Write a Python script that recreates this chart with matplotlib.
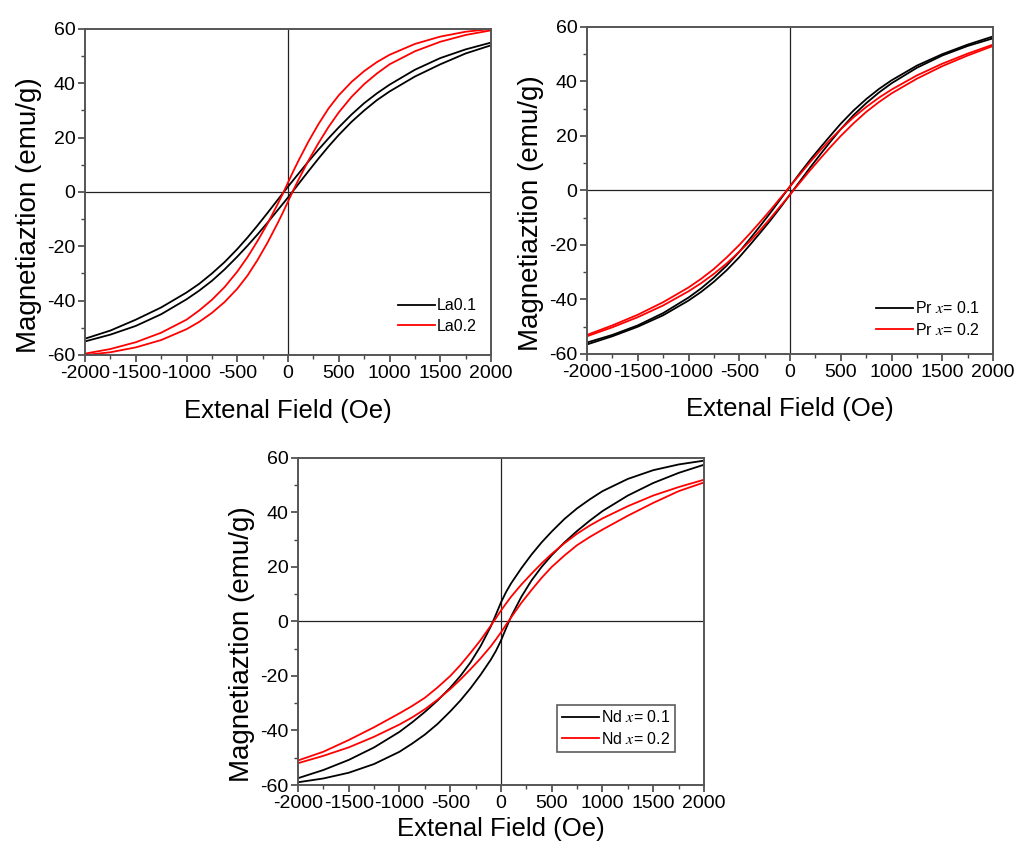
import matplotlib
matplotlib.use("Agg")
import matplotlib.pyplot as plt
import numpy as np

# Field grid (Oe), shared by all loops
field = [-2000, -1750, -1500, -1250, -1000, -875, -750, -625, -500, -400,
         -300, -200, -100, -50, 0, 50, 100, 200, 300, 400,
         500, 625, 750, 875, 1000, 1250, 1500, 1750, 2000]

# Descending-field (upper) branches, emu/g; the ascending branch is its mirror
la01_upper = [-54, -51, -47, -42.5, -37, -33.8, -30, -25.8, -21, -16.8,
              -12.3, -7.6, -2.8, -0.4, 2, 4.3, 6.6, 11.2, 15.6, 19.8,
              23.8, 28.5, 32.7, 36.3, 39.5, 45, 49.3, 52.5, 55]
la02_upper = [-59.5, -57.8, -55.3, -51.8, -47, -43.6, -39.7, -35, -29.3, -24,
              -18, -11.5, -4.3, -0.5, 3.5, 7.5, 11.3, 18.5, 25, 30.8,
              35.6, 40.5, 44.5, 47.8, 50.5, 54.5, 57.2, 59, 60]
pr01_upper = [-55.8, -53, -49.5, -45, -39.3, -35.9, -32, -27.6, -22.5, -18,
              -13.3, -8.5, -3.5, -1, 1.5, 4, 6.5, 11.3, 15.8, 20.2,
              24.5, 29.3, 33.5, 37.2, 40.4, 45.8, 50, 53.5, 56.5]
pr02_upper = [-53, -49.5, -45.6, -41, -35.6, -32.4, -28.8, -24.6, -20, -16,
              -11.8, -7.5, -3, -0.8, 1.5, 3.8, 6, 10.5, 14.8, 18.8,
              22.5, 26.8, 30.6, 34, 37, 42.2, 46.5, 50.2, 53.5]
nd01_upper = [-57.5, -54.5, -50.8, -46.2, -40.5, -37, -33.2, -29, -24.3, -20,
              -15, -9, -1.8, 2.5, 7, 10.8, 14, 19.5, 24.5, 29,
              33, 37.6, 41.5, 44.8, 47.8, 52.3, 55.5, 57.6, 59]
nd02_upper = [-51, -47.8, -43.5, -38.8, -33.7, -31, -28, -24.2, -20, -16,
              -11.5, -6.8, -1.5, 1.2, 4, 6.6, 9.1, 13.5, 17.5, 21.3,
              24.8, 28.7, 32.2, 35.2, 37.8, 42.3, 46.2, 49.3, 52]

panels = [
    ([la01_upper, la02_upper], ["La0.1", "La0.2"], False),
    ([pr01_upper, pr02_upper], [r"Pr $x$= 0.1", r"Pr $x$= 0.2"], False),
    ([nd01_upper, nd02_upper], [r"Nd $x$= 0.1", r"Nd $x$= 0.2"], True),
]

# axes rectangles in figure fractions
rects = [
    [0.0837, 0.5789, 0.3996, 0.3867],
    [0.5778, 0.5801, 0.3996, 0.3880],
    [0.2933, 0.0688, 0.3996, 0.3880],
]
xlabel_y = [-0.135, -0.131, -0.097]
legend_anchor = [(0.997, 0.026), (1.0, 0.01), (0.949, 0.077)]

plt.rcParams.update({
    "font.family": ["Liberation Sans", "DejaVu Sans"],
    "mathtext.fontset": "stix",
    "axes.unicode_minus": False,
    "figure.facecolor": "white",
})

fig = plt.figure(figsize=(10.16, 8.43), dpi=100)
colors = ["black", "red"]

for (series, labels, framed), rect, xly, anchor in zip(panels, rects, xlabel_y, legend_anchor):
    ax = fig.add_axes(rect)
    H = np.array(field, dtype=float)
    for upper, lab, col in zip(series, labels, colors):
        up = np.array(upper, dtype=float)
        low = -up[::-1]
        ax.plot(H, up, color=col, lw=1.3, label=lab)
        ax.plot(H, low, color=col, lw=1.3)
    ax.axhline(0, color="#222222", lw=0.9, zorder=0)
    ax.axvline(0, color="#222222", lw=0.9, zorder=0)

    ax.set_xlim(-2000, 2000)
    ax.set_ylim(-60, 60)
    ax.set_xticks(np.arange(-2000, 2001, 500))
    ax.set_xticks(np.arange(-2000, 2001, 250), minor=True)
    ax.set_yticks(np.arange(-60, 61, 20))
    ax.set_yticks(np.arange(-60, 61, 10), minor=True)
    ax.tick_params(which="major", direction="out", length=5, width=1.2,
                   labelsize=14, color="#444444", pad=2)
    ax.tick_params(which="minor", direction="out", length=3, width=1.0,
                   color="#444444")
    ax.tick_params(top=False, right=False)
    for sp in ax.spines.values():
        sp.set_color("#555555")
        sp.set_linewidth(1.4)

    ax.set_xlabel("Extenal Field (Oe)", fontsize=18.5)
    ax.set_ylabel("Magnetiaztion (emu/g)", fontsize=20)
    ax.xaxis.set_label_coords(0.5, xly)
    ax.yaxis.set_label_coords(-0.105, 0.43)

    leg = ax.legend(loc="lower right", fontsize=11.5, frameon=framed,
                    handlelength=2.3, handletextpad=0.15, borderpad=0.3,
                    labelspacing=0.35, fancybox=False, bbox_to_anchor=anchor)
    if framed:
        leg.get_frame().set_edgecolor("#333333")
        leg.get_frame().set_linewidth(1.2)

fig.savefig("out.png", dpi=100)
